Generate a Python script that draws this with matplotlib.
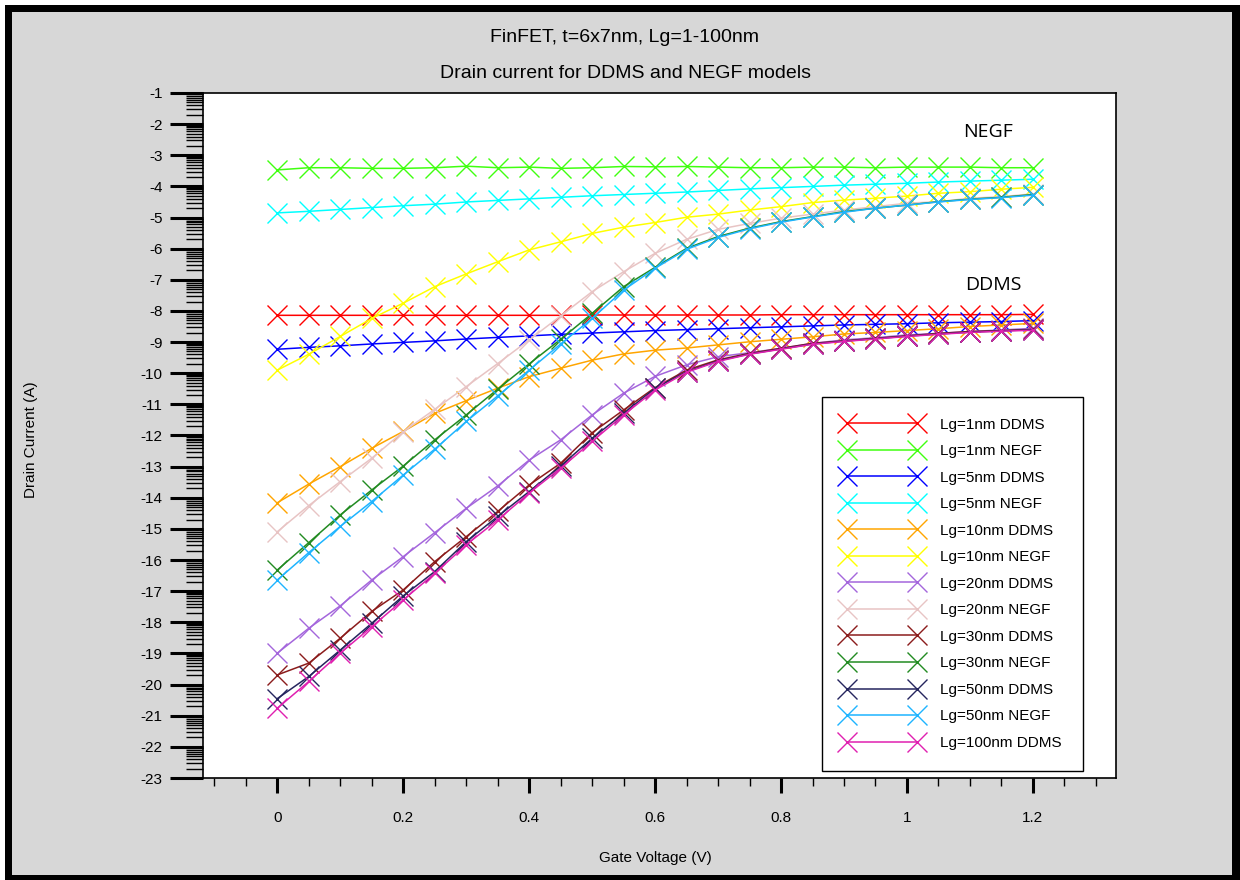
import numpy as np
import matplotlib
matplotlib.use('Agg')
import matplotlib.pyplot as plt
from matplotlib.patches import Rectangle
from matplotlib.ticker import FixedLocator, FuncFormatter

# gate voltage sweep (V)
vg = [0.0, 0.05, 0.1, 0.15, 0.2, 0.25, 0.3, 0.35, 0.4, 0.45, 0.5, 0.55, 0.6,
      0.65, 0.7, 0.75, 0.8, 0.85, 0.9, 0.95, 1.0, 1.05, 1.1, 1.15, 1.2]

# log10 drain current (A)
lg1_ddms = [-8.14, -8.14, -8.14, -8.14, -8.14, -8.14, -8.14, -8.14, -8.14, -8.14, -8.13, -8.13, -8.13,
            -8.13, -8.13, -8.13, -8.12, -8.12, -8.12, -8.12, -8.12, -8.12, -8.12, -8.12, -8.11]
lg1_negf = [-3.47, -3.40, -3.40, -3.42, -3.42, -3.40, -3.35, -3.40, -3.38, -3.42, -3.40, -3.36, -3.37,
            -3.36, -3.38, -3.40, -3.40, -3.38, -3.38, -3.40, -3.38, -3.38, -3.38, -3.40, -3.40]
lg5_ddms = [-9.23, -9.17, -9.12, -9.06, -9.01, -8.96, -8.90, -8.85, -8.80, -8.75, -8.71, -8.67, -8.63,
            -8.60, -8.57, -8.54, -8.51, -8.48, -8.45, -8.43, -8.41, -8.38, -8.36, -8.34, -8.31]
lg5_negf = [-4.85, -4.80, -4.74, -4.68, -4.62, -4.57, -4.50, -4.45, -4.40, -4.35, -4.30, -4.26, -4.22,
            -4.18, -4.13, -4.08, -4.04, -4.00, -3.96, -3.93, -3.90, -3.86, -3.83, -3.80, -3.77]
lg10_ddms = [-14.16, -13.56, -13.00, -12.41, -11.87, -11.29, -10.88, -10.48, -10.11, -9.84, -9.58, -9.38, -9.26,
             -9.19, -9.09, -8.99, -8.91, -8.83, -8.74, -8.69, -8.63, -8.57, -8.50, -8.45, -8.40]
lg10_negf = [-9.90, -9.39, -8.82, -8.24, -7.75, -7.22, -6.81, -6.42, -6.04, -5.78, -5.51, -5.31, -5.16,
             -4.99, -4.89, -4.76, -4.65, -4.52, -4.44, -4.38, -4.31, -4.22, -4.17, -4.09, -4.03]
lg20_ddms = [-18.99, -18.19, -17.47, -16.64, -15.89, -15.12, -14.34, -13.62, -12.79, -12.14, -11.34, -10.64, -10.10,
             -9.73, -9.47, -9.34, -9.20, -9.04, -8.93, -8.86, -8.77, -8.72, -8.66, -8.61, -8.56]
lg20_negf = [-15.09, -14.25, -13.48, -12.73, -11.88, -11.16, -10.43, -9.69, -8.93, -8.16, -7.38, -6.74, -6.15,
             -5.70, -5.38, -5.19, -5.02, -4.89, -4.76, -4.65, -4.54, -4.49, -4.38, -4.33, -4.24]
lg30_ddms = [-19.69, -19.31, -18.51, -17.65, -16.96, -16.05, -15.25, -14.44, -13.59, -12.89, -11.91, -11.18, -10.46,
             -9.90, -9.57, -9.36, -9.20, -9.04, -8.96, -8.88, -8.80, -8.72, -8.66, -8.63, -8.59]
lg30_negf = [-16.32, -15.44, -14.55, -13.75, -12.98, -12.14, -11.34, -10.51, -9.70, -8.91, -8.08, -7.22, -6.60,
             -5.99, -5.61, -5.34, -5.13, -4.97, -4.81, -4.70, -4.60, -4.49, -4.41, -4.35, -4.26]
lg50_ddms = [-20.45, -19.74, -18.89, -18.03, -17.15, -16.37, -15.41, -14.60, -13.80, -12.98, -12.09, -11.29, -10.48,
             -9.95, -9.60, -9.38, -9.22, -9.06, -8.97, -8.89, -8.81, -8.74, -8.68, -8.64, -8.60]
lg50_negf = [-16.64, -15.76, -14.92, -14.12, -13.27, -12.44, -11.55, -10.73, -9.90, -9.06, -8.24, -7.33, -6.63,
             -6.02, -5.64, -5.36, -5.15, -4.98, -4.83, -4.70, -4.60, -4.50, -4.42, -4.36, -4.28]
lg100_ddms = [-20.76, -19.90, -18.99, -18.14, -17.28, -16.43, -15.51, -14.71, -13.85, -13.05, -12.19, -11.34, -10.54,
              -9.97, -9.62, -9.39, -9.23, -9.07, -8.98, -8.90, -8.82, -8.75, -8.69, -8.65, -8.62]

series = [
    ('Lg=1nm DDMS', lg1_ddms, '#ff0000'),
    ('Lg=1nm NEGF', lg1_negf, '#40ff10'),
    ('Lg=5nm DDMS', lg5_ddms, '#0000ff'),
    ('Lg=5nm NEGF', lg5_negf, '#00ffff'),
    ('Lg=10nm DDMS', lg10_ddms, '#ffa500'),
    ('Lg=10nm NEGF', lg10_negf, '#ffff00'),
    ('Lg=20nm DDMS', lg20_ddms, '#a466dc'),
    ('Lg=20nm NEGF', lg20_negf, '#e8c4c4'),
    ('Lg=30nm DDMS', lg30_ddms, '#8b1c1c'),
    ('Lg=30nm NEGF', lg30_negf, '#228b22'),
    ('Lg=50nm DDMS', lg50_ddms, '#25255e'),
    ('Lg=50nm NEGF', lg50_negf, '#1eb4ff'),
    ('Lg=100nm DDMS', lg100_ddms, '#e020b0'),
]

y_major = list(range(-23, 0))
x_major = [0, 0.2, 0.4, 0.6, 0.8, 1.0, 1.2]
x_minor = [-0.1, -0.05, 0.05, 0.1, 0.15, 0.25, 0.3, 0.35, 0.45, 0.5, 0.55, 0.65, 0.7, 0.75,
           0.85, 0.9, 0.95, 1.05, 1.1, 1.15, 1.25, 1.3]

plt.rcParams['font.family'] = ['Liberation Sans', 'DejaVu Sans']

fig = plt.figure(figsize=(12.4, 8.8), dpi=100)
fig.patch.set_facecolor('white')
W, H = 1240.0, 880.0
# outer frame like the screenshot
fig.patches.append(Rectangle((5 / W, 0), 1235 / W, 875 / H, transform=fig.transFigure,
                             facecolor='black', edgecolor='none', zorder=-10))
fig.patches.append(Rectangle((12 / W, 5 / H), 1220 / W, 863 / H, transform=fig.transFigure,
                             facecolor='#d7d7d7', edgecolor='none', zorder=-9))

ax = fig.add_axes([203 / W, 1 - 778 / H, (1116 - 203) / W, (778 - 93) / H])
ax.set_facecolor('white')

for label, vals, col in series:
    ax.plot(vg, vals, color=col, lw=1.1, marker='x', markersize=14, markeredgewidth=1.0, label=label)

ax.set_xlim(-0.118, 1.332)
ax.set_ylim(-23, -1)

# log-style minor ticks inside each unit
y_minor = [n + np.log10(k) for n in range(-23, -1) for k in range(2, 10)]
ax.yaxis.set_major_locator(FixedLocator(y_major))
ax.yaxis.set_minor_locator(FixedLocator(y_minor))
ax.xaxis.set_major_locator(FixedLocator(x_major))
ax.xaxis.set_minor_locator(FixedLocator(x_minor))
ax.xaxis.set_major_formatter(FuncFormatter(lambda v, p: '%g' % v))
ax.yaxis.set_major_formatter(FuncFormatter(lambda v, p: '%d' % v))

ax.tick_params(axis='y', which='major', direction='out', length=24, width=2.2, pad=5, labelsize=11)
ax.tick_params(axis='y', which='minor', direction='out', length=12.5, width=1.0)
ax.tick_params(axis='x', which='major', direction='out', length=11, width=2.2, pad=13, labelsize=11)
ax.tick_params(axis='x', which='minor', direction='out', length=6, width=1.0)
for s in ax.spines.values():
    s.set_linewidth(1.2)

fig.text(625 / W, 1 - 38 / H, 'FinFET, t=6x7nm, Lg=1-100nm', ha='center', va='center', fontsize=14)
fig.text(625 / W, 1 - 73 / H, 'Drain current for DDMS and NEGF models', ha='center', va='center', fontsize=14)
fig.text(655 / W, 1 - 858 / H, 'Gate Voltage (V)', ha='center', va='center', fontsize=11)
fig.text(31 / W, 1 - 440 / H, 'Drain Current (A)', ha='center', va='center', rotation=90, fontsize=11)

ax.text(1.129, -2.25, 'NEGF', ha='center', va='center', fontsize=14, family=['Open Sans', 'DejaVu Sans'])
ax.text(1.137, -7.17, 'DDMS', ha='center', va='center', fontsize=14, family=['Open Sans', 'DejaVu Sans'])

leg = ax.legend(loc='upper left', bbox_to_anchor=((822 - 203) / 913, (778 - 397) / 685), borderaxespad=0,
                fancybox=False, framealpha=1, edgecolor='black', fontsize=11, numpoints=2,
                handlelength=5.2, handletextpad=1.2, labelspacing=0.82, borderpad=1.35)
leg.get_frame().set_linewidth(1.0)

fig.savefig('out.png', dpi=100, facecolor=fig.get_facecolor())
